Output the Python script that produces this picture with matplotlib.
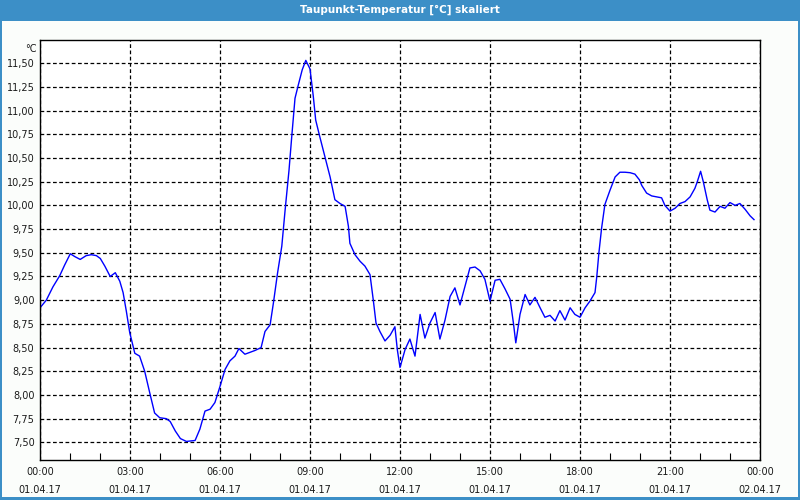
import matplotlib.pyplot as plt
from matplotlib.patches import Rectangle
from matplotlib.ticker import FixedLocator, MultipleLocator

# Taupunkt 01.04.17, Stunden ab 00:00
hours = [0.00, 0.21, 0.43, 0.66, 0.82, 1.01, 1.16, 1.34, 1.54, 1.71, 1.88, 2.01, 2.16, 2.34,
         2.51, 2.66, 2.77, 2.88, 2.99, 3.16, 3.32, 3.49, 3.66, 3.82, 3.99, 4.21, 4.34, 4.51,
         4.68, 4.88, 5.17, 5.33, 5.50, 5.67, 5.83, 6.00, 6.17, 6.33, 6.50, 6.63, 6.83, 7.00,
         7.17, 7.37, 7.50, 7.67, 7.78, 7.92, 8.06, 8.17, 8.30, 8.39, 8.50, 8.61, 8.74, 8.86,
         9.00, 9.11, 9.19, 9.33, 9.50, 9.67, 9.83, 10.00, 10.17, 10.28, 10.33, 10.50, 10.67,
         10.83, 11.00, 11.11, 11.20, 11.33, 11.50, 11.67, 11.83, 11.91, 12.00, 12.17, 12.33,
         12.50, 12.67, 12.83, 13.00, 13.17, 13.33, 13.50, 13.67, 13.83, 14.00, 14.17, 14.33,
         14.50, 14.67, 14.83, 15.00, 15.17, 15.33, 15.50, 15.67, 15.78, 15.86, 16.00, 16.17,
         16.33, 16.50, 16.67, 16.83, 17.00, 17.17, 17.33, 17.50, 17.67, 17.83, 18.00, 18.17,
         18.33, 18.50, 18.56, 18.63, 18.72, 18.83, 19.00, 19.17, 19.33, 19.50, 19.67, 19.83,
         19.98, 20.06, 20.22, 20.39, 20.56, 20.72, 20.83, 21.00, 21.17, 21.33, 21.50, 21.67,
         21.83, 21.91, 22.02, 22.11, 22.24, 22.33, 22.50, 22.67, 22.83, 23.00, 23.17, 23.33,
         23.50, 23.67, 23.80]
dewpoint = [8.92, 9.00, 9.14, 9.26, 9.37, 9.49, 9.46, 9.43, 9.47, 9.48, 9.47, 9.44, 9.36, 9.25,
            9.29, 9.20, 9.08, 8.88, 8.66, 8.44, 8.41, 8.25, 8.02, 7.81, 7.76, 7.75, 7.72, 7.62,
            7.54, 7.51, 7.52, 7.64, 7.83, 7.85, 7.92, 8.09, 8.27, 8.36, 8.41, 8.49, 8.43, 8.45,
            8.47, 8.50, 8.67, 8.74, 8.97, 9.29, 9.57, 9.95, 10.37, 10.72, 11.13, 11.27, 11.43, 11.53,
            11.44, 11.15, 10.90, 10.72, 10.51, 10.30, 10.06, 10.02, 9.99, 9.78, 9.60, 9.48, 9.41,
            9.36, 9.27, 9.00, 8.76, 8.67, 8.57, 8.63, 8.72, 8.48, 8.29, 8.48, 8.59,
            8.41, 8.85, 8.60, 8.76, 8.87, 8.59, 8.79, 9.04, 9.13, 8.95, 9.15, 9.34,
            9.35, 9.31, 9.22, 8.99, 9.21, 9.22, 9.12, 9.01, 8.76, 8.55, 8.85, 9.06,
            8.95, 9.03, 8.92, 8.82, 8.84, 8.78, 8.89, 8.79, 8.92, 8.85, 8.82, 8.92,
            8.99, 9.08, 9.25, 9.50, 9.76, 10.01, 10.16, 10.30, 10.35, 10.35, 10.345, 10.33,
            10.27, 10.21, 10.13, 10.10, 10.09, 10.08, 10.00, 9.94, 9.97, 10.02, 10.04, 10.09,
            10.18, 10.25, 10.36, 10.25, 10.06, 9.95, 9.93, 9.99, 9.97, 10.03, 10.00, 10.02,
            9.96, 9.89, 9.85]

x_ticks = [0, 3, 6, 9, 12, 15, 18, 21, 24]
x_labels = ["00:00\n01.04.17", "03:00\n01.04.17", "06:00\n01.04.17", "09:00\n01.04.17",
            "12:00\n01.04.17", "15:00\n01.04.17", "18:00\n01.04.17", "21:00\n01.04.17",
            "00:00\n02.04.17"]
y_ticks = [7.50, 7.75, 8.00, 8.25, 8.50, 8.75, 9.00, 9.25, 9.50, 9.75, 10.00, 10.25,
           10.50, 10.75, 11.00, 11.25, 11.50]

frame_blue = '#3c8fc7'
fig = plt.figure(figsize=(8, 5), dpi=100, facecolor='#fbfdfb')

# Titelleiste und Rahmen
fig.patches.append(Rectangle((0, 1 - 21/500), 1, 21/500, transform=fig.transFigure,
                             facecolor=frame_blue, edgecolor='none'))
fig.patches.append(Rectangle((0, 0), 2/800, 1, transform=fig.transFigure,
                             facecolor=frame_blue, edgecolor='none'))
fig.patches.append(Rectangle((1 - 2/800, 0), 2/800, 1, transform=fig.transFigure,
                             facecolor=frame_blue, edgecolor='none'))
fig.patches.append(Rectangle((0, 0), 1, 3/500, transform=fig.transFigure,
                             facecolor=frame_blue, edgecolor='none'))
fig.text(0.5, 1 - 10/500, "Taupunkt-Temperatur [°C] skaliert", color='white',
         fontsize=7.5, fontweight='bold', ha='center', va='center')

ax = fig.add_axes([40/800, 1 - 460/500, 720/800, 420/500])
ax.set_facecolor('white')
ax.plot(hours, dewpoint, color='#0000ff', linewidth=1)

ax.set_xlim(0, 24)
ax.set_ylim(7.314, 11.745)
ax.xaxis.set_major_locator(FixedLocator(x_ticks))
ax.set_xticklabels(x_labels)
ax.xaxis.set_minor_locator(MultipleLocator(1))
ax.set_yticks(y_ticks)
ax.set_yticklabels([f"{v:.2f}".replace('.', ',') for v in y_ticks])

ax.tick_params(axis='x', which='major', direction='in', length=0, pad=5,
               labelsize=7, labelcolor='#1a1a1a')
ax.tick_params(axis='x', which='minor', direction='in', length=5, width=0.8)
ax.tick_params(axis='y', length=0, pad=4, labelsize=7, labelcolor='#1a1a1a')
for lbl in ax.get_xticklabels():
    lbl.set_linespacing(2.0)

ax.grid(True, which='major', color='black', linestyle=(0, (3, 2)), linewidth=0.9)
for s in ax.spines.values():
    s.set_color('black')
    s.set_linewidth(1)

ax.text(-0.005, 0.99, "°C", transform=ax.transAxes, ha='right', va='top',
        fontsize=7, color='#1a1a1a')

fig.savefig('out.png', dpi=100, facecolor=fig.get_facecolor())
